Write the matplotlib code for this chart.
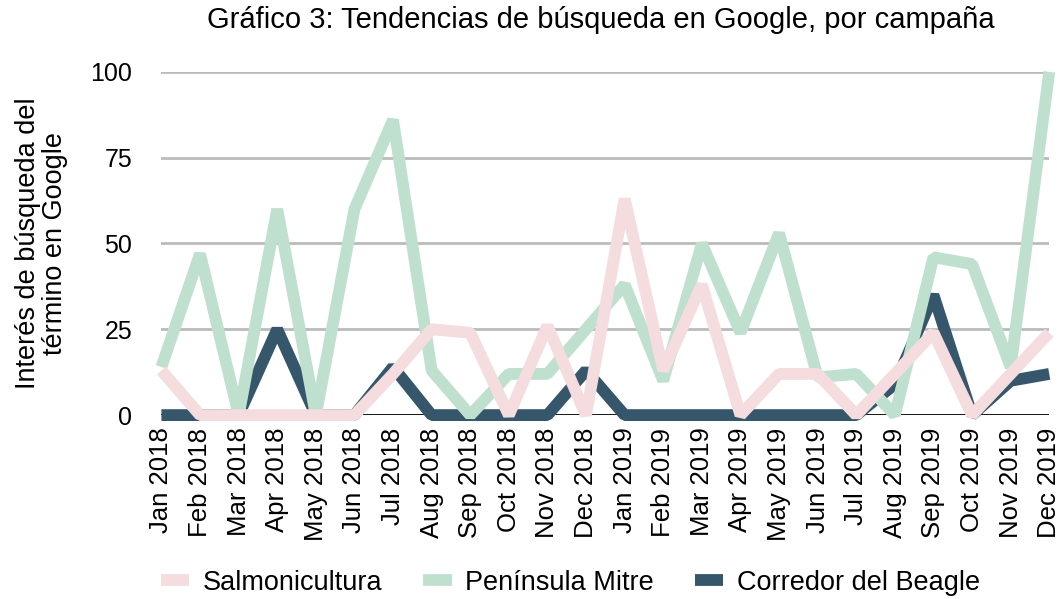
import numpy as np
import matplotlib.pyplot as plt

plt.rcParams['font.family'] = ['Liberation Sans', 'DejaVu Sans']

months = ['Jan', 'Feb', 'Mar', 'Apr', 'May', 'Jun',
          'Jul', 'Aug', 'Sep', 'Oct', 'Nov', 'Dec']
labels = [f'{m} {y}' for y in (2018, 2019) for m in months]

salmonicultura = [13, 0, 0, 0, 0, 0, 12, 25, 24, 0, 26, 0,
                  63, 13, 38, 0, 12, 12, 0, 12, 24, 0, 12, 24]
peninsula_mitre = [14, 47, 0, 60, 0, 60, 86, 13, 0, 12, 12, 25,
                   38, 10, 50, 24, 53, 11, 12, 0, 46, 44, 14, 100]
corredor_beagle = [0, 0, 0, 25, 0, 0, 14, 0, 0, 0, 0, 13,
                   0, 0, 0, 0, 0, 0, 0, 9, 35, 0, 10, 12]

series = [('Salmonicultura', salmonicultura, '#f4dcdf'),
          ('Península Mitre', peninsula_mitre, '#c0e0cf'),
          ('Corredor del Beagle', corredor_beagle, '#36566b')]

fig = plt.figure(figsize=(10.62, 5.99), dpi=100)
ax = fig.add_axes([0.152, 0.307, 0.836, 0.573])

x = np.arange(len(labels))
for yv in [25, 50, 75, 100]:
    ax.axhline(yv, color='#bbbbbb', lw=2, zorder=0)
ax.axhline(0, color='black', lw=2, zorder=1)

# draw order: dark at bottom, then green, pink on top
for name, vals, col in [series[2], series[1], series[0]]:
    ax.plot(x, vals, color=col, lw=8.5, solid_joinstyle='bevel',
            solid_capstyle='butt', label=name, clip_on=False, zorder=2)

ax.set_xlim(0, len(labels) - 1)
ax.set_ylim(0, 100)
ax.set_yticks([0, 25, 50, 75, 100])
ax.set_xticks(x)
ax.set_xticklabels(labels, rotation=90, fontsize=18.5)
ax.tick_params(axis='y', labelsize=18, length=0, pad=21)
ax.tick_params(axis='x', length=0, pad=9)
for s in ax.spines.values():
    s.set_visible(False)

ax.set_ylabel('Interés de búsqueda del\ntérmino en Google', fontsize=19.5,
              linespacing=1.05, labelpad=16)
fig.suptitle('Gráfico 3: Tendencias de búsqueda en Google, por campaña',
             fontsize=21, x=0.566, y=0.99)

handles, names = ax.get_legend_handles_labels()
order = [2, 1, 0]
fig.legend([handles[i] for i in order], [names[i] for i in order],
           loc='lower center', bbox_to_anchor=(0.537, -0.035), ncol=3,
           frameon=False, fontsize=19.5, handlelength=1.05, handletextpad=0.5,
           columnspacing=1.5)

fig.savefig('out.png', dpi=100)
